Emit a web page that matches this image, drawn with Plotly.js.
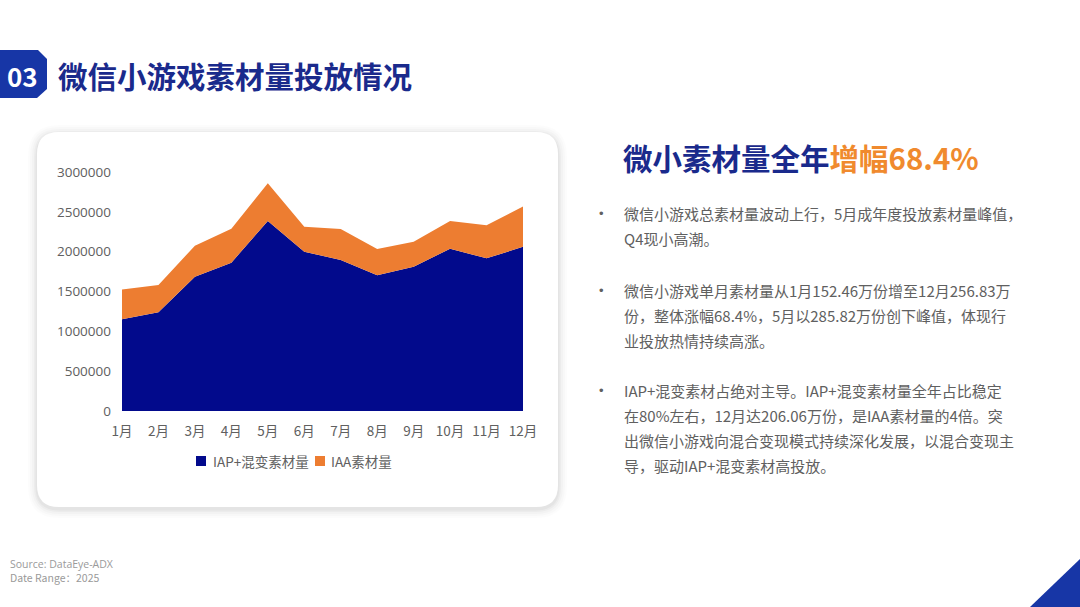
<!DOCTYPE html>
<html>
<head>
<meta charset="utf-8">
<script src="https://cdn.plot.ly/plotly-3.0.1.min.js"></script>
<style>
html,body{margin:0;padding:0;background:#ffffff;}
#chart{width:1080px;height:607px;}
</style>
</head>
<body>
<div id="chart"></div>
<script>
// ---- data ----
const months = ["1月","2月","3月","4月","5月","6月","7月","8月","9月","10月","11月","12月"];
const iapMixed = [1151000, 1239000, 1686000, 1862000, 2385000, 2000000, 1895000, 1703000, 1811000, 2037000, 1916000, 2060600];
const iaa = [373600, 343000, 389000, 426000, 473200, 314000, 390000, 330000, 314000, 348000, 415000, 507700];
const seriesNames = ["IAP+混变素材量", "IAA素材量"];
const seriesColors = ["#020A8C", "#ED7D31"];
const yTicks = [0, 500000, 1000000, 1500000, 2000000, 2500000, 3000000];

const W = 1080, H = 607;
const X = px => px / W;
const Y = py => 1 - py / H;

function roundRectPath(x0, y0, x1, y1, r) {
  const p = [];
  p.push(`M ${X(x0 + r)} ${Y(y0)}`);
  p.push(`L ${X(x1 - r)} ${Y(y0)}`);
  p.push(`Q ${X(x1)} ${Y(y0)} ${X(x1)} ${Y(y0 + r)}`);
  p.push(`L ${X(x1)} ${Y(y1 - r)}`);
  p.push(`Q ${X(x1)} ${Y(y1)} ${X(x1 - r)} ${Y(y1)}`);
  p.push(`L ${X(x0 + r)} ${Y(y1)}`);
  p.push(`Q ${X(x0)} ${Y(y1)} ${X(x0)} ${Y(y1 - r)}`);
  p.push(`L ${X(x0)} ${Y(y0 + r)}`);
  p.push(`Q ${X(x0)} ${Y(y0)} ${X(x0 + r)} ${Y(y0)}`);
  p.push('Z');
  return p.join(' ');
}
function polyPath(pts) {
  return pts.map((p, i) => (i ? 'L ' : 'M ') + X(p[0]) + ' ' + Y(p[1])).join(' ') + ' Z';
}

const shapes = [];
// soft card shadow layers
const shadowLayers = [[9, 0.012], [7, 0.016], [5, 0.02], [3, 0.026], [1.5, 0.03]];
shadowLayers.forEach(([s, a]) => {
  shapes.push({type: 'path', xref: 'paper', yref: 'paper', layer: 'below',
    path: roundRectPath(37 - s, 132 - s + 2, 558 + s, 507 + s + 2, 22 + s),
    fillcolor: `rgba(0,0,0,${a})`, line: {width: 0}});
});
shapes.push({type: 'path', xref: 'paper', yref: 'paper', layer: 'below',
  path: roundRectPath(37, 132, 558, 507, 22), fillcolor: '#ffffff', line: {width: 0}});
// badge
shapes.push({type: 'path', xref: 'paper', yref: 'paper', layer: 'above',
  path: polyPath([[0, 50], [38, 50], [47, 59], [47, 89], [37, 98], [0, 98]]),
  fillcolor: '#1736A6', line: {width: 0}});
// bottom-right triangle
shapes.push({type: 'path', xref: 'paper', yref: 'paper', layer: 'above',
  path: polyPath([[1030, 607], [1080, 559], [1080, 607]]),
  fillcolor: '#1736A6', line: {width: 0}});

const textColor = '#606060';
const bodyFont = {family: '"Noto Sans CJK SC", "Noto Sans", sans-serif', size: 15, color: textColor};
const annotations = [];
annotations.push({xref: 'paper', yref: 'paper', x: X(22), y: Y(75), text: '<b>03</b>', showarrow: false,
  xanchor: 'center', yanchor: 'middle', font: {family: '"Noto Sans CJK SC", sans-serif', size: 26, color: '#ffffff'}});
annotations.push({xref: 'paper', yref: 'paper', x: X(56), y: Y(75), text: '<b>微信小游戏素材量投放情况</b>', showarrow: false,
  xanchor: 'left', yanchor: 'middle', font: {family: '"Noto Sans CJK SC", sans-serif', size: 29.5, color: '#1A2A8C'}});
annotations.push({xref: 'paper', yref: 'paper', x: X(621), y: Y(157),
  text: '<b>微小素材量全年<span style="color:#F08A2E">增幅68.4%</span></b>', showarrow: false,
  xanchor: 'left', yanchor: 'middle', font: {family: '"Noto Sans CJK SC", sans-serif', size: 29.5, color: '#1A2A8C'}});

const bullets = [
  {y: 213, lines: ['微信小游戏总素材量波动上行，5月成年度投放素材量峰值，', 'Q4现小高潮。']},
  {y: 290, lines: ['微信小游戏单月素材量从1月152.46万份增至12月256.83万', '份，整体涨幅68.4%，5月以285.82万份创下峰值，体现行', '业投放热情持续高涨。']},
  {y: 390, lines: ['IAP+混变素材占绝对主导。IAP+混变素材量全年占比稳定', '在80%左右，12月达206.06万份，是IAA素材量的4倍。突', '出微信小游戏向混合变现模式持续深化发展，以混合变现主', '导，驱动IAP+混变素材高投放。']}
];
bullets.forEach(b => {
  annotations.push({xref: 'paper', yref: 'paper', x: X(601), y: Y(b.y), text: '•', showarrow: false,
    xanchor: 'center', yanchor: 'middle', font: {family: 'sans-serif', size: 13, color: textColor}});
  b.lines.forEach((ln, i) => {
    annotations.push({xref: 'paper', yref: 'paper', x: X(622), y: Y(b.y + i * 25.3), text: ln, showarrow: false,
      xanchor: 'left', yanchor: 'middle', font: bodyFont});
  });
});
annotations.push({xref: 'paper', yref: 'paper', x: X(8), y: Y(564), text: 'Source: DataEye-ADX', showarrow: false,
  xanchor: 'left', yanchor: 'middle', font: {family: '"Open Sans", "Noto Sans", sans-serif', size: 10.5, color: '#9a9a9a'}});
annotations.push({xref: 'paper', yref: 'paper', x: X(8), y: Y(577), text: 'Date Range：2025', showarrow: false,
  xanchor: 'left', yanchor: 'middle', font: {family: '"Noto Sans CJK SC", sans-serif', size: 10.5, color: '#9a9a9a'}});

// compact legend (square swatch + label), placed like the reference
const legendFont = {family: '"Noto Sans CJK SC", sans-serif', size: 13.5, color: textColor};
const legendItems = [{sx: 196, tx: 211}, {sx: 315, tx: 329}];
legendItems.forEach((it, i) => {
  shapes.push({type: 'rect', xref: 'paper', yref: 'paper', layer: 'above',
    x0: X(it.sx), x1: X(it.sx + 10), y0: Y(466), y1: Y(456), fillcolor: seriesColors[i], line: {width: 0}});
  annotations.push({xref: 'paper', yref: 'paper', x: X(it.tx), y: Y(461), text: seriesNames[i], showarrow: false,
    xanchor: 'left', yanchor: 'middle', font: legendFont});
});

const traces = [
  {x: months, y: iapMixed, name: seriesNames[0], type: 'scatter', mode: 'lines', stackgroup: 'one',
   line: {width: 0, color: seriesColors[0]}, fillcolor: seriesColors[0]},
  {x: months, y: iaa, name: seriesNames[1], type: 'scatter', mode: 'lines', stackgroup: 'one',
   line: {width: 0, color: seriesColors[1]}, fillcolor: seriesColors[1]}
];

const layout = {
  width: W, height: H,
  margin: {l: 0, r: 0, t: 0, b: 0},
  paper_bgcolor: '#ffffff', plot_bgcolor: 'rgba(0,0,0,0)',
  showlegend: false,
  xaxis: {domain: [X(122), X(523)], type: 'category', range: [0, 11], showgrid: false, zeroline: false,
    showline: false, ticks: '', ticklabelstandoff: 10,
    tickfont: {family: '"Noto Sans CJK SC", sans-serif', size: 13.5, color: textColor},
    fixedrange: true},
  yaxis: {domain: [Y(411), Y(172)], range: [0, 3000000], tickvals: yTicks, ticktext: yTicks.map(v => String(v)),
    showgrid: false, zeroline: false, showline: false, ticks: '', ticklabelstandoff: 10,
    tickfont: {family: '"Open Sans", "Noto Sans", sans-serif', size: 13.5, color: textColor},
    automargin: false, fixedrange: true},
  shapes: shapes,
  annotations: annotations
};

Plotly.newPlot('chart', traces, layout, {displayModeBar: false, staticPlot: true});
</script>
</body>
</html>
